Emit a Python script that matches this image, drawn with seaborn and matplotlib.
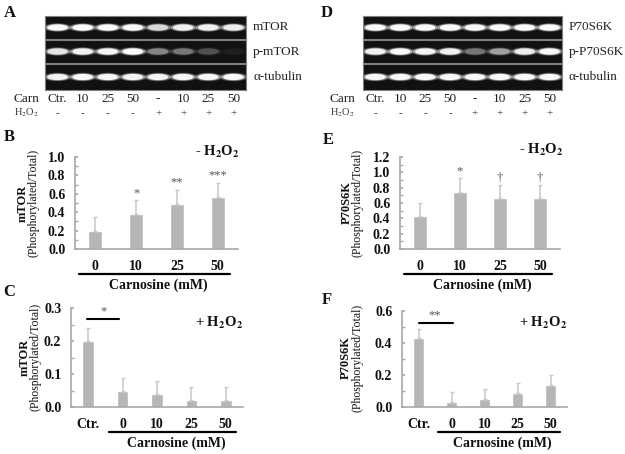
import matplotlib
matplotlib.use('agg')
import seaborn as sns
import matplotlib.pyplot as plt
import matplotlib.transforms as mtransforms
from matplotlib.path import Path
import numpy as np
import pandas as pd

sns.set_theme(style='white')
plt.rcParams['font.family'] = ['Liberation Serif', 'DejaVu Serif']
plt.rcParams['mathtext.fontset'] = 'stix'

W, H = 625, 454

# --- blot data (band brightness, 0..1) ---
lane_carn = ['Ctr.', '10', '25', '50', '-', '10', '25', '50']
lane_h2o2 = ['-', '-', '-', '-', '+', '+', '+', '+']

mtor_band = [0.95, 0.97, 0.97, 0.96, 0.72, 0.88, 0.88, 0.85]
p_mtor_band = [0.80, 0.88, 0.92, 0.98, 0.35, 0.30, 0.18, 0.04]
tub_a_band = [0.90, 0.93, 0.92, 0.90, 0.90, 0.92, 0.92, 0.95]
blot_a_names = ['mTOR', 'p-mTOR', 'α-tubulin']

p70_band = [0.95, 0.95, 0.95, 0.95, 0.92, 0.95, 0.97, 0.97]
p_p70_band = [0.88, 0.95, 0.90, 0.88, 0.30, 0.45, 0.85, 0.95]
tub_d_band = [0.95, 0.95, 0.95, 0.95, 0.95, 0.95, 0.95, 0.95]
blot_d_names = ['P70S6K', 'p-P70S6K', 'α-tubulin']

# --- bar data ---
carn_minus = ['0', '10', '25', '50']
mtor_minus = [0.20, 0.38, 0.49, 0.57]
mtor_minus_err = [0.15, 0.15, 0.15, 0.15]
mtor_minus_sig = ['', '*', '**', '***']

p70_minus = [0.43, 0.75, 0.66, 0.67]
p70_minus_err = [0.17, 0.17, 0.18, 0.17]
p70_minus_sig = ['', '*', '†', '†']

carn_plus = ['Ctr.', '0', '10', '25', '50']
mtor_plus = [0.20, 0.047, 0.038, 0.021, 0.021]
mtor_plus_err = [0.04, 0.041, 0.041, 0.041, 0.041]
p70_plus = [0.43, 0.03, 0.05, 0.085, 0.135]
p70_plus_err = [0.06, 0.065, 0.065, 0.065, 0.065]

BAR = '#b6b6b6'
ERR = '#c8c8c8'
SPINE = '#a8a8a8'

fig = plt.figure(figsize=(W / 100, H / 100), dpi=100)


def ax_px(l, t, r, b):
    return fig.add_axes([l / W, 1 - b / H, (r - l) / W, (b - t) / H])


def ftext(x, y, s, **kw):
    return fig.text(x / W, 1 - y / H, s, **kw)


tt = np.linspace(0, 2 * np.pi, 60)
ELL = Path(np.column_stack([np.cos(tt), 0.3 * np.sin(tt)]))


def blot(l, r, bands, names, carn_x):
    strips = [(16, 39), (40, 63), (64, 90)]
    lanes = np.arange(len(bands[0]))
    last = None
    for (t, b), vals, name in zip(strips, bands, names):
        ax = ax_px(l, t, r, b)
        ax.set_facecolor('#111111')
        ax.set_xlim(-0.5, 7.5)
        ax.set_ylim(0, 1)
        ax.set_xticks([])
        ax.set_yticks([])
        for sp in ax.spines.values():
            sp.set_color('#808080')
            sp.set_linewidth(0.8)
        v = np.array(vals)
        y = np.full(len(v), 0.5)
        glow = np.column_stack([np.ones((len(v), 3)), 0.2 * v])
        mid = np.column_stack([np.ones((len(v), 3)) * 0.92, 0.5 * v])
        core = np.column_stack([np.ones((len(v), 3)), v])
        ax.scatter(lanes, y, marker=ELL, s=430, c=glow, linewidths=0)
        ax.scatter(lanes, y, marker=ELL, s=320, c=mid, linewidths=0)
        ax.scatter(lanes, y, marker=ELL, s=220, c=core, linewidths=0)
        ax.text(1.035, 0.5, name, transform=ax.transAxes, ha='left', va='center',
                fontsize=9.5, color='#222222')
        last = ax
    for i, (c, h) in enumerate(zip(lane_carn, lane_h2o2)):
        last.text(i, -0.35, c, ha='center', va='center', fontsize=9.5,
                  color='#222222', clip_on=False)
        last.text(i, -0.9, h, ha='center', va='center', fontsize=8,
                  color='#333333', clip_on=False)
    ftext(carn_x, 99, 'Carn', ha='left', va='center', fontsize=9.5, color='#222222')
    ftext(carn_x, 113, r'H$_2$O$_2$', ha='left', va='center', fontsize=7.5, color='#333333')


blot(45, 246, [mtor_band, p_mtor_band, tub_a_band], blot_a_names, 14)
blot(363, 562, [p70_band, p_p70_band, tub_d_band], blot_d_names, 330)


def bar_panel(rect, cats, vals, errs, ymax, step, line_from, sig=None, h2o2='',
              h2o2_pos=(1.0, 1.05)):
    ax = ax_px(*rect)
    df = pd.DataFrame({'cat': cats, 'val': vals})
    sns.barplot(data=df, x='cat', y='val', order=cats, color=BAR, width=0.34,
                saturation=1, errorbar=None, ax=ax)
    n = len(cats)
    ax.errorbar(np.arange(n), vals, yerr=[np.zeros(n), errs], fmt='none',
                ecolor=ERR, elinewidth=1.1, capsize=1.5, capthick=1)
    ax.set_xlim(-0.5, n - 0.5)
    ax.set_ylim(0, ymax)
    ticks = np.arange(0, ymax + step / 2, step)
    ax.set_yticks(ticks, labels=['%.1f' % t for t in ticks], fontsize=10,
                  fontweight='bold')
    ax.set_yticks(np.arange(step / 2, ymax, step), minor=True)
    ax.set_xticks(np.arange(n), labels=cats, fontsize=10, fontweight='bold')
    ax.tick_params(axis='y', which='both', direction='in', length=2.5,
                   color=SPINE, left=True, pad=7, labelcolor='#111111')
    ax.tick_params(axis='x', length=0, pad=8, labelcolor='#111111')
    ax.set_xlabel('')
    ax.set_ylabel('')
    for s in ['top', 'right']:
        ax.spines[s].set_visible(False)
    for s in ['left', 'bottom']:
        ax.spines[s].set_color(SPINE)
        ax.spines[s].set_linewidth(1.2)
    if sig is not None:
        for i, (v, e, s) in enumerate(zip(vals, errs, sig)):
            if s:
                ax.annotate(s, (i, v + e), xytext=(0, 1), textcoords='offset points',
                            ha='center', va='bottom', fontsize=9, color='#555555')
    # underline + axis title
    tr = mtransforms.offset_copy(ax.get_xaxis_transform(), fig=fig, y=-25, units='dots')
    x0, x1 = line_from - 0.4, n - 1 + 0.3
    ax.plot([x0, x1], [0, 0], color='black', lw=1.6, transform=tr, clip_on=False)
    tr2 = mtransforms.offset_copy(ax.get_xaxis_transform(), fig=fig, y=-36, units='dots')
    ax.text((x0 + x1) / 2 + 0.1, 0, 'Carnosine (mM)', transform=tr2, ha='center',
            va='center', fontsize=10, fontweight='bold', color='#111111')
    ax.text(h2o2_pos[0], h2o2_pos[1], h2o2, transform=ax.transAxes, ha='right',
            va='center', fontsize=10.5, fontweight='bold', color='#111111')
    return ax


def ylabel(x, y, name):
    ftext(x, y, name, rotation=90, ha='center', va='center', fontsize=9,
          fontweight='bold', color='#111111')
    ftext(x + 11, y, '(Phosphorylated/Total)', rotation=90, ha='center',
          va='center', fontsize=8.5, color='#111111')


# B
bar_panel((75, 157, 238, 249), carn_minus, mtor_minus, mtor_minus_err, 1.0, 0.2, 0,
          sig=mtor_minus_sig, h2o2=r'- H$_\mathbf{2}$O$_\mathbf{2}$', h2o2_pos=(1.01, 1.055))
ylabel(23, 203, 'mTOR')
# E
bar_panel((400, 157, 560, 249), carn_minus, p70_minus, p70_minus_err, 1.2, 0.2, 0,
          sig=p70_minus_sig, h2o2=r'- H$_\mathbf{2}$O$_\mathbf{2}$', h2o2_pos=(1.02, 1.075))
ylabel(347, 203, 'P70S6K')
# C
axc = bar_panel((71, 308, 243, 407), carn_plus, mtor_plus, mtor_plus_err, 0.3, 0.1, 1,
                h2o2=r'+ H$_\mathbf{2}$O$_\mathbf{2}$', h2o2_pos=(1.0, 0.85))
axc.plot([-0.03, 0.9], [0.268, 0.268], color='black', lw=1.5)
axc.text(0.45, 0.272, '*', ha='center', va='bottom', fontsize=9, color='#555555')
ylabel(25, 357, 'mTOR')
# F
axf = bar_panel((402, 311, 567, 407), carn_plus, p70_plus, p70_plus_err, 0.6, 0.2, 1,
                h2o2=r'+ H$_\mathbf{2}$O$_\mathbf{2}$', h2o2_pos=(1.0, 0.875))
axf.yaxis.set_minor_locator(matplotlib.ticker.MultipleLocator(0.1))
axf.plot([0.0, 1.05], [0.527, 0.527], color='black', lw=1.5)
axf.text(0.5, 0.535, '**', ha='center', va='bottom', fontsize=9, color='#555555')
ylabel(346, 358, 'P70S6K')

# panel letters
for lt, x, y in [('A', 10, 13), ('D', 327, 13), ('B', 9, 137), ('E', 328, 140),
                 ('C', 9, 292), ('F', 327, 300)]:
    ftext(x, y, lt, ha='center', va='center', fontsize=12, fontweight='bold',
          color='#111111')

fig.savefig('out.png', dpi=100)
